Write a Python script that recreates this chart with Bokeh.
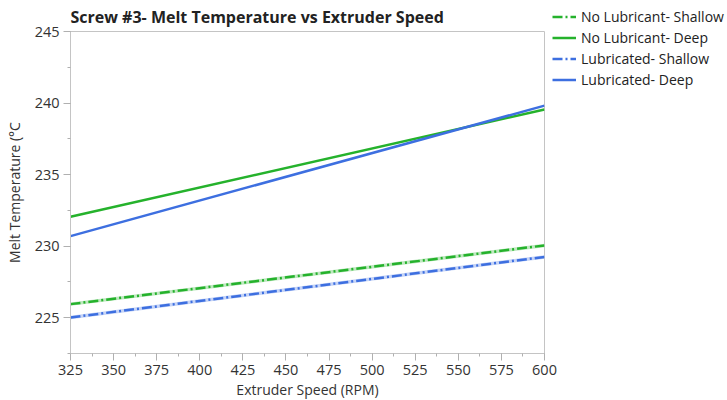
from bokeh.plotting import figure
from bokeh.models import Range1d, Legend, LegendItem, FixedTicker
from bokeh.embed import file_html
from bokeh.resources import INLINE

speed = [325, 600]
no_lub_shallow = [225.95, 230.05]
no_lub_deep = [232.05, 239.55]
lub_shallow = [225.02, 229.25]
lub_deep = [230.7, 239.82]
x_ticks = [325, 350, 375, 400, 425, 450, 475, 500, 525, 550, 575, 600]
y_ticks = [225, 230, 235, 240, 245]

GREEN = "#25b22c"
BLUE = "#3d6fe0"
LGREEN = "#bfe8c0"
LBLUE = "#c6d4f6"
FONT = "Open Sans"

p = figure(frame_width=474, frame_height=322, output_backend="svg", toolbar_location=None,
           x_range=Range1d(325, 600), y_range=Range1d(222.5, 245),
           min_border_left=70, min_border_right=0, min_border_top=31, min_border_bottom=47)

p.title.text = "Screw #3- Melt Temperature vs Extruder Speed"
p.title.text_font = FONT
p.title.text_font_size = "16px"
p.title.text_font_style = "bold"
p.title.text_color = "#222222"
p.title.align = "left"
p.title.offset = 0
p.title.standoff = 7

p.xgrid.visible = False
p.ygrid.visible = False
p.outline_line_color = "#c4c4c4"
p.background_fill_color = "white"

for ax in (p.xaxis[0], p.yaxis[0]):
    ax.axis_line_color = "#c4c4c4"
    ax.major_tick_line_color = "#b0b0b0"
    ax.minor_tick_line_color = "#b0b0b0"
    ax.major_tick_out = 7
    ax.major_tick_in = 0
    ax.minor_tick_out = 3
    ax.minor_tick_in = 0
    ax.major_label_text_font = FONT
    ax.major_label_text_font_size = "14.5px"
    ax.major_label_text_color = "#333333"
    ax.axis_label_text_font = FONT
    ax.axis_label_text_font_size = "14px"
    ax.axis_label_text_font_style = "normal"
    ax.axis_label_text_color = "#333333"

p.xaxis.ticker = FixedTicker(ticks=x_ticks, minor_ticks=[325 + 12.5 * i for i in range(23)])
p.yaxis.ticker = FixedTicker(ticks=y_ticks, minor_ticks=[222.5 + 2.5 * i for i in range(10)])
p.xaxis.axis_label = "Extruder Speed (RPM)"
p.yaxis.axis_label = "Melt Temperature (°C"
p.xaxis.axis_label_standoff = 2
p.yaxis.axis_label_standoff = 8
p.xaxis.major_label_standoff = 4
p.yaxis.major_label_standoff = 4

# light under-lines for the dash-dot series
p.line(speed, no_lub_shallow, color=LGREEN, line_width=3.5)
p.line(speed, lub_shallow, color=LBLUE, line_width=3.5)

r1 = p.line(speed, no_lub_shallow, color=GREEN, line_width=2.5, line_dash="10 3 2 3")
r2 = p.line(speed, no_lub_deep, color=GREEN, line_width=2.5)
r3 = p.line(speed, lub_shallow, color=BLUE, line_width=2.5, line_dash="10 3 2 3")
r4 = p.line(speed, lub_deep, color=BLUE, line_width=2.5)

legend = Legend(items=[
    LegendItem(label="No Lubricant- Shallow", renderers=[r1]),
    LegendItem(label="No Lubricant- Deep", renderers=[r2]),
    LegendItem(label="Lubricated- Shallow", renderers=[r3]),
    LegendItem(label="Lubricated- Deep", renderers=[r4]),
], location=(8, 263))
legend.label_text_font = FONT
legend.label_text_font_size = "14px"
legend.label_text_color = "#222222"
legend.glyph_width = 24
legend.label_standoff = 5
legend.spacing = 0
legend.padding = 0
legend.margin = 0
legend.label_height = 21
legend.glyph_height = 21
legend.border_line_color = None
legend.background_fill_alpha = 0
p.add_layout(legend, "right")

open("out.html", "w").write(file_html(p, INLINE))
